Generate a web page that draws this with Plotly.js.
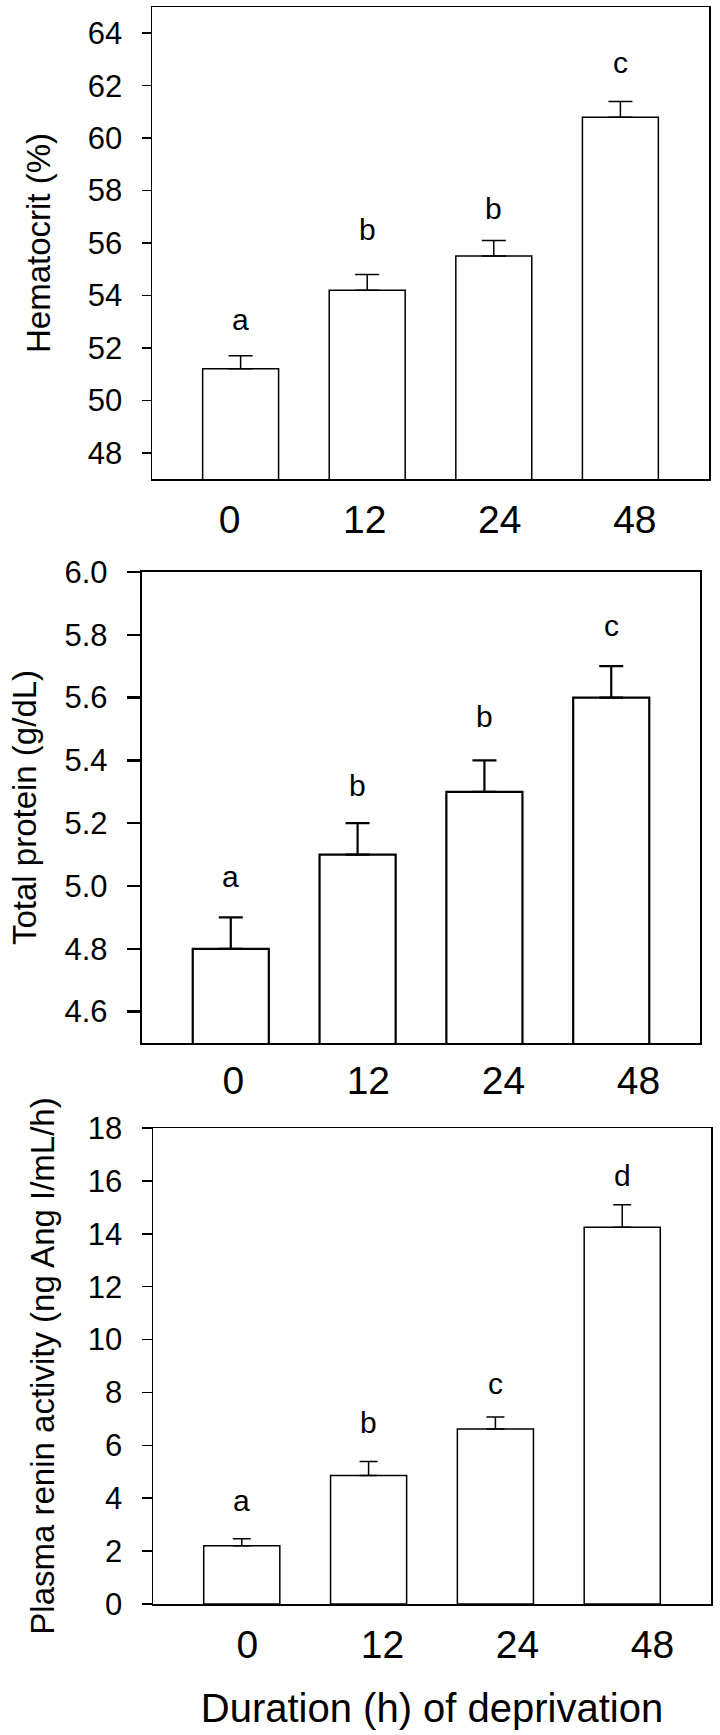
<!DOCTYPE html>
<html>
<head>
<meta charset="utf-8">
<script src="https://cdn.plot.ly/plotly-3.0.1.min.js"></script>
<style>
  html, body { margin: 0; padding: 0; background: #fff; }
  #chart { width: 720px; height: 1735px; }
</style>
</head>
<body>
<div id="chart"></div>
<script>
// Duration (h) of deprivation
const durations = ['0', '12', '24', '48'];

// Hematocrit (%)
const hematocrit = [51.2, 54.2, 55.5, 60.8];
const hematocritSE = [0.5, 0.6, 0.6, 0.6];
const hematocritLetters = ['a', 'b', 'b', 'c'];
const hematocritLetterY = [53.1, 56.5, 57.3, 62.9];

// Total protein (g/dL)
const protein = [4.8, 5.1, 5.3, 5.6];
const proteinSE = [0.1, 0.1, 0.1, 0.1];
const proteinLetters = ['a', 'b', 'b', 'c'];
const proteinLetterY = [5.03, 5.32, 5.54, 5.83];

// Plasma renin activity (ng Ang I/mL/h)
const renin = [2.2, 4.86, 6.62, 14.25];
const reninSE = [0.27, 0.53, 0.45, 0.85];
const reninLetters = ['a', 'b', 'c', 'd'];
const reninLetterY = [3.9, 6.85, 8.33, 16.2];

const font = 'Arial, "Liberation Sans", sans-serif';
const W = 720, H = 1735;
const xpos = durations.map((d, i) => i);

// pixel boxes of the three panels -> paper domains
const px = (a, b) => [a / W, b / W];
const py = (top, bottom) => [1 - bottom / H, 1 - top / H];

function barTrace(values, se, xa, ya, lw, capw) {
    return {
        type: 'bar',
        x: xpos,
        y: values,
        xaxis: xa,
        yaxis: ya,
        width: 0.6,
        marker: { color: 'white', line: { color: 'black', width: lw } },
        error_y: {
            type: 'data',
            symmetric: false,
            array: se,
            arrayminus: se.map(() => 0),
            color: 'black',
            thickness: lw,
            width: capw
        },
        hoverinfo: 'y',
        showlegend: false
    };
}

function letterNotes(letters, ys, xa, ya) {
    return letters.map((t, i) => ({
        x: i, y: ys[i], xref: xa, yref: ya,
        text: t, showarrow: false,
        font: { family: font, size: 30, color: 'black' }
    }));
}

// tick labels sit on a slightly wider pitch than the bars in the original
function xAxis(domain, anchor, lw, labelOffset, labelStep, standoff) {
    return {
        domain: domain,
        anchor: anchor,
        range: [-0.7, 3.7],
        showline: true, mirror: true, linecolor: 'black', linewidth: lw,
        showgrid: false, zeroline: false,
        ticks: '',
        tickvals: durations.map((d, i) => labelOffset + i * labelStep),
        ticktext: durations,
        ticklabelstandoff: standoff,
        tickfont: { family: font, size: 39, color: 'black' },
        fixedrange: true
    };
}

function yAxis(domain, anchor, lw, range, tick0, dtick, fmt, title, ticklen, standoff) {
    return {
        domain: domain,
        anchor: anchor,
        range: range,
        tick0: tick0, dtick: dtick, tickformat: fmt,
        showline: true, mirror: true, linecolor: 'black', linewidth: lw,
        showgrid: false, zeroline: false,
        ticks: 'outside', ticklen: ticklen, tickwidth: lw, tickcolor: 'black',
        ticklabelstandoff: 13,
        tickfont: { family: font, size: 31, color: 'black' },
        title: { text: title, standoff: standoff, font: { family: font, size: 33, color: 'black' } },
        fixedrange: true
    };
}

const data = [
    barTrace(hematocrit, hematocritSE, 'x', 'y', 1.5, 12),
    barTrace(protein, proteinSE, 'x2', 'y2', 2.2, 12),
    barTrace(renin, reninSE, 'x3', 'y3', 1.5, 9)
];

const xaxis3 = xAxis(px(153, 711), 'y3', 1.5, 0.044, 1.065, 6);
xaxis3.title = { text: 'Duration (h) of deprivation', standoff: 28, font: { family: font, size: 40, color: 'black' } };

const layout = {
    width: W,
    height: H,
    margin: { l: 0, r: 0, t: 0, b: 0 },
    paper_bgcolor: 'white',
    plot_bgcolor: 'white',
    xaxis: xAxis(px(152, 709), 'y', 1.5, -0.087, 1.067, 6),
    yaxis: yAxis(py(7, 479), 'x', 1.5, [47, 65], 48, 2, 'd', 'Hematocrit (%)', 9, 27),
    xaxis2: xAxis(px(142, 700), 'y2', 2.2, 0.02, 1.065, 2),
    yaxis2: yAxis(py(572, 1043), 'x2', 2.2, [4.5, 6.0], 4.6, 0.2, '.1f', 'Total protein (g/dL)', 13, 18),
    xaxis3: xaxis3,
    yaxis3: yAxis(py(1128, 1604), 'x3', 1.5, [0, 18], 0, 2, 'd', 'Plasma renin activity (ng Ang I/mL/h)', 10, 23),
    annotations: [].concat(
        letterNotes(hematocritLetters, hematocritLetterY, 'x', 'y'),
        letterNotes(proteinLetters, proteinLetterY, 'x2', 'y2'),
        letterNotes(reninLetters, reninLetterY, 'x3', 'y3')
    )
};

Plotly.newPlot('chart', data, layout, { displayModeBar: false, staticPlot: true });
</script>
</body>
</html>
